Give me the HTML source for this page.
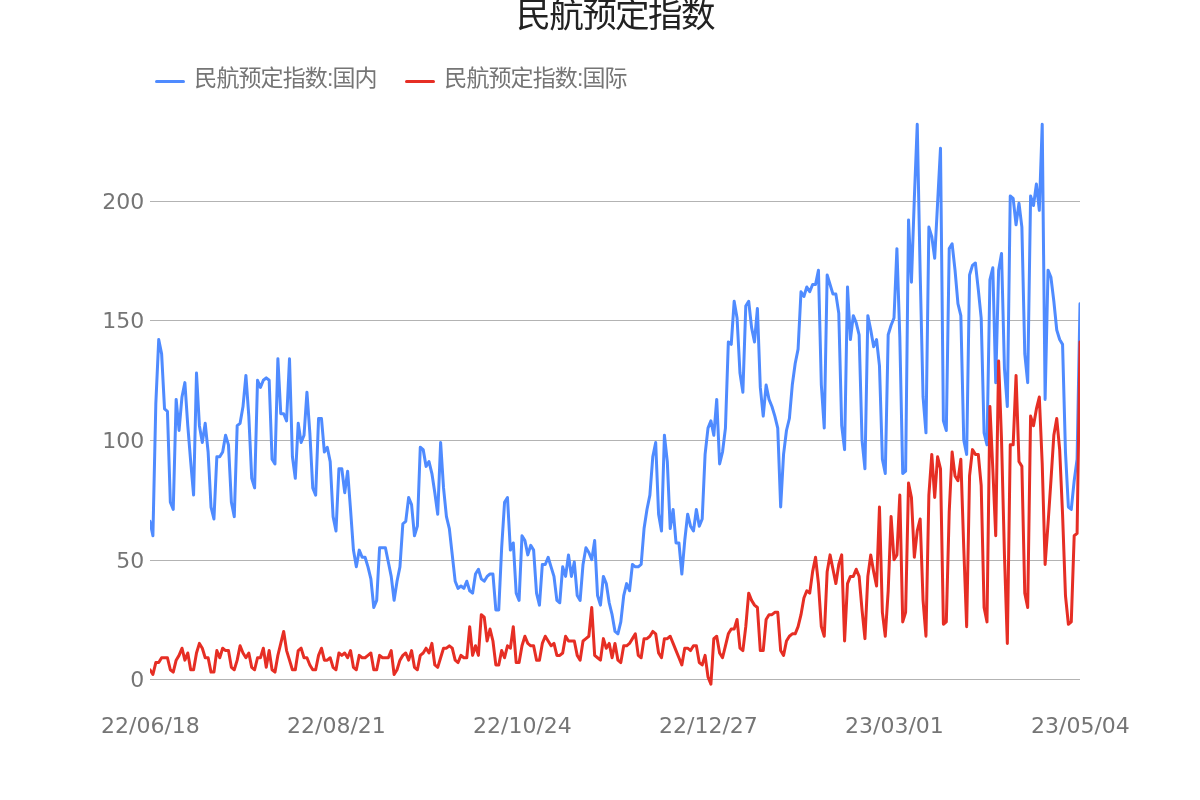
<!DOCTYPE html>
<html lang="zh-CN">
<head>
<meta charset="utf-8">
<title>民航预定指数</title>
<style>
html,body{margin:0;padding:0;background:#fff;}
body{width:1200px;height:800px;overflow:hidden;position:relative;font-family:"Liberation Sans","Noto Sans CJK SC",sans-serif;}
svg{position:absolute;left:0;top:0;display:block;}
.title{font-family:"Liberation Sans","Noto Sans CJK SC","WenQuanYi Zen Hei",sans-serif;font-size:34.6px;letter-spacing:-1.65px;fill:#222;}
.legend text{font-family:"Liberation Sans","Noto Sans CJK SC","WenQuanYi Zen Hei",sans-serif;font-size:23px;letter-spacing:-0.9px;fill:#757575;}
.axis text{font-family:"DejaVu Sans","Liberation Sans",sans-serif;font-size:22px;fill:#757575;}
.grid line{stroke:#b3b3b3;stroke-width:1;shape-rendering:crispEdges;}
.series{fill:none;stroke-width:3;stroke-linejoin:round;stroke-linecap:round;}
</style>
</head>
<body>
<svg width="1200" height="800" viewBox="0 0 1200 800">
<rect x="0" y="0" width="1200" height="800" fill="#ffffff"/>
<text class="title" x="516.3" y="26.6">民航预定指数</text>
<g class="legend">
<line x1="156.5" x2="183.5" y1="81.5" y2="81.5" stroke="#4F8BFF" stroke-width="3" stroke-linecap="round"/>
<text x="194.3" y="86">民航预定指数:国内</text>
<line x1="406.5" x2="433.5" y1="81.5" y2="81.5" stroke="#E62E24" stroke-width="3" stroke-linecap="round"/>
<text x="444.3" y="86">民航预定指数:国际</text>
</g>
<g class="grid"><line x1="150" x2="1080" y1="679.5" y2="679.5"/><line x1="150" x2="1080" y1="560.5" y2="560.5"/><line x1="150" x2="1080" y1="440.5" y2="440.5"/><line x1="150" x2="1080" y1="320.5" y2="320.5"/><line x1="150" x2="1080" y1="201.5" y2="201.5"/></g>
<g class="axis"><text x="144.3" y="686.5" text-anchor="end">0</text><text x="144.3" y="567.5" text-anchor="end">50</text><text x="144.3" y="447.5" text-anchor="end">100</text><text x="144.3" y="327.5" text-anchor="end">150</text><text x="144.3" y="208.5" text-anchor="end">200</text><text x="150.4" y="733" text-anchor="middle">22/06/18</text><text x="336.4" y="733" text-anchor="middle">22/08/21</text><text x="522.4" y="733" text-anchor="middle">22/10/24</text><text x="708.4" y="733" text-anchor="middle">22/12/27</text><text x="894.4" y="733" text-anchor="middle">23/03/01</text><text x="1080.4" y="733" text-anchor="middle">23/05/04</text></g>
<defs><clipPath id="plot"><rect x="150" y="100" width="930" height="620"/></clipPath></defs>
<g clip-path="url(#plot)">
<polyline class="series" stroke="#4F8BFF" points="150.00,521.39 152.91,535.75 155.81,404.16 158.72,339.56 161.62,353.92 164.53,408.95 167.44,411.34 170.34,502.25 173.25,509.43 176.16,399.38 179.06,430.48 181.97,396.98 184.88,382.63 187.78,425.69 190.69,461.58 193.59,495.08 196.50,373.06 199.41,425.69 202.31,442.44 205.22,423.30 208.12,452.01 211.03,507.04 213.94,519.00 216.84,456.80 219.75,456.80 222.66,452.01 225.56,435.26 228.47,444.83 231.38,502.25 234.28,516.61 237.19,425.69 240.09,423.30 243.00,406.55 245.91,375.45 248.81,416.12 251.72,478.33 254.62,487.90 257.53,380.24 260.44,387.41 263.34,380.24 266.25,377.84 269.16,380.24 272.06,459.19 274.97,463.97 277.88,358.70 280.78,413.73 283.69,413.73 286.59,420.91 289.50,358.70 292.41,456.80 295.31,478.33 298.22,423.30 301.12,442.44 304.03,435.26 306.94,392.20 309.84,432.87 312.75,487.90 315.66,495.08 318.56,418.52 321.47,418.52 324.38,452.01 327.28,447.23 330.19,461.58 333.09,516.61 336.00,530.96 338.91,468.76 341.81,468.76 344.72,492.68 347.62,471.15 350.53,509.43 353.44,550.11 356.34,566.85 359.25,550.11 362.16,557.28 365.06,557.28 367.97,566.85 370.88,578.81 373.78,607.52 376.69,600.35 379.59,547.71 382.50,547.71 385.41,547.71 388.31,562.07 391.22,576.42 394.12,600.35 397.03,581.21 399.94,566.85 402.84,523.79 405.75,521.39 408.66,497.47 411.56,504.65 414.47,535.75 417.38,526.18 420.28,447.23 423.19,449.62 426.09,466.37 429.00,461.58 431.91,473.54 434.81,492.68 437.72,514.22 440.62,442.44 443.53,487.90 446.44,516.61 449.34,528.57 452.25,554.89 455.16,581.21 458.06,588.38 460.97,585.99 463.88,588.38 466.78,581.21 469.69,590.78 472.59,593.17 475.50,574.03 478.41,569.24 481.31,578.81 484.22,581.21 487.12,576.42 490.03,574.03 492.94,574.03 495.84,609.92 498.75,609.92 501.66,547.71 504.56,502.25 507.47,497.47 510.38,550.11 513.28,542.93 516.19,593.17 519.09,600.35 522.00,535.75 524.91,540.53 527.81,554.89 530.72,545.32 533.62,550.11 536.53,593.17 539.44,605.13 542.34,564.46 545.25,564.46 548.16,557.28 551.06,566.85 553.97,576.42 556.88,600.35 559.78,602.74 562.69,566.85 565.59,576.42 568.50,554.89 571.41,576.42 574.31,562.07 577.22,595.56 580.12,600.35 583.03,564.46 585.94,547.71 588.84,552.50 591.75,559.67 594.66,540.53 597.56,595.56 600.47,605.13 603.38,576.42 606.28,583.60 609.19,602.74 612.09,614.70 615.00,631.45 617.91,633.84 620.81,621.88 623.72,595.56 626.62,583.60 629.53,590.78 632.44,564.46 635.34,566.85 638.25,566.85 641.16,564.46 644.06,528.57 646.97,509.43 649.88,495.08 652.78,456.80 655.69,442.44 658.59,514.22 661.50,530.96 664.41,435.26 667.31,461.58 670.22,528.57 673.12,509.43 676.03,542.93 678.94,542.93 681.84,574.03 684.75,540.53 687.66,514.22 690.56,526.18 693.47,530.96 696.38,509.43 699.28,526.18 702.19,519.00 705.09,454.40 708.00,428.09 710.91,420.91 713.81,435.26 716.72,399.38 719.62,463.97 722.53,452.01 725.44,428.09 728.34,341.96 731.25,344.35 734.16,301.28 737.06,318.03 739.97,373.06 742.88,392.20 745.78,306.07 748.69,301.28 751.59,327.60 754.50,341.96 757.41,308.46 760.31,387.41 763.22,416.12 766.12,385.02 769.03,399.38 771.94,406.55 774.84,416.12 777.75,428.09 780.66,507.04 783.56,454.40 786.47,430.48 789.38,418.52 792.28,385.02 795.19,363.49 798.09,349.13 801.00,291.71 803.91,296.50 806.81,286.93 809.72,291.71 812.62,284.54 815.53,284.54 818.44,270.18 821.34,385.02 824.25,428.09 827.16,274.97 830.06,284.54 832.97,294.11 835.88,294.11 838.78,313.25 841.69,425.69 844.59,449.62 847.50,286.93 850.41,339.56 853.31,315.64 856.22,322.82 859.12,334.78 862.03,440.05 864.94,468.76 867.84,315.64 870.75,329.99 873.66,346.74 876.56,339.56 879.47,365.88 882.38,459.19 885.28,473.54 888.19,334.78 891.09,325.21 894.00,318.03 896.91,248.65 899.81,337.17 902.72,473.54 905.62,471.15 908.53,219.94 911.44,282.14 914.34,198.41 917.25,124.24 920.16,272.57 923.06,396.98 925.97,432.87 928.88,227.12 931.78,236.69 934.69,258.22 937.59,203.19 940.50,148.16 943.41,420.91 946.31,430.48 949.22,248.65 952.12,243.86 955.03,270.18 957.94,303.68 960.84,315.64 963.75,440.05 966.66,454.40 969.56,274.97 972.47,265.40 975.38,263.00 978.28,289.32 981.19,318.03 984.09,432.87 987.00,444.83 989.91,279.75 992.81,267.79 995.72,382.63 998.62,270.18 1001.53,253.43 1004.44,368.27 1007.34,406.55 1010.25,196.01 1013.16,198.41 1016.06,224.72 1018.97,203.19 1021.88,227.12 1024.78,353.92 1027.69,382.63 1030.59,196.01 1033.50,205.58 1036.41,184.05 1039.31,210.37 1042.22,124.24 1045.12,399.38 1048.03,270.18 1050.94,277.36 1053.84,301.28 1056.75,329.99 1059.66,339.56 1062.56,344.35 1065.47,452.01 1068.38,507.04 1071.28,509.43 1074.19,480.72 1077.09,459.19 1080.00,303.68"/>
<polyline class="series" stroke="#E62E24" points="150.00,669.73 152.91,674.51 155.81,662.55 158.72,662.55 161.62,657.77 164.53,657.77 167.44,657.77 170.34,669.73 173.25,672.12 176.16,660.16 179.06,655.38 181.97,648.20 184.88,660.16 187.78,652.98 190.69,669.73 193.59,669.73 196.50,652.98 199.41,643.41 202.31,648.20 205.22,657.77 208.12,657.77 211.03,672.12 213.94,672.12 216.84,650.59 219.75,657.77 222.66,648.20 225.56,650.59 228.47,650.59 231.38,667.34 234.28,669.73 237.19,660.16 240.09,645.80 243.00,652.98 245.91,657.77 248.81,652.98 251.72,667.34 254.62,669.73 257.53,657.77 260.44,657.77 263.34,648.20 266.25,667.34 269.16,650.59 272.06,669.73 274.97,672.12 277.88,655.38 280.78,643.41 283.69,631.45 286.59,650.59 289.50,660.16 292.41,669.73 295.31,669.73 298.22,650.59 301.12,648.20 304.03,657.77 306.94,657.77 309.84,664.94 312.75,669.73 315.66,669.73 318.56,655.38 321.47,648.20 324.38,660.16 327.28,660.16 330.19,657.77 333.09,667.34 336.00,669.73 338.91,652.98 341.81,655.38 344.72,652.98 347.62,657.77 350.53,650.59 353.44,667.34 356.34,669.73 359.25,655.38 362.16,657.77 365.06,657.77 367.97,655.38 370.88,652.98 373.78,669.73 376.69,669.73 379.59,655.38 382.50,657.77 385.41,657.77 388.31,657.77 391.22,650.59 394.12,674.51 397.03,669.73 399.94,660.16 402.84,655.38 405.75,652.98 408.66,660.16 411.56,650.59 414.47,667.34 417.38,669.73 420.28,655.38 423.19,652.98 426.09,648.20 429.00,652.98 431.91,643.41 434.81,664.94 437.72,667.34 440.62,657.77 443.53,648.20 446.44,648.20 449.34,645.80 452.25,648.20 455.16,660.16 458.06,662.55 460.97,655.38 463.88,657.77 466.78,657.77 469.69,626.66 472.59,655.38 475.50,645.80 478.41,655.38 481.31,614.70 484.22,617.09 487.12,641.02 490.03,629.06 492.94,641.02 495.84,664.94 498.75,664.94 501.66,650.59 504.56,657.77 507.47,645.80 510.38,648.20 513.28,626.66 516.19,662.55 519.09,662.55 522.00,645.80 524.91,636.23 527.81,643.41 530.72,645.80 533.62,645.80 536.53,660.16 539.44,660.16 542.34,643.41 545.25,636.23 548.16,641.02 551.06,645.80 553.97,643.41 556.88,655.38 559.78,655.38 562.69,652.98 565.59,636.23 568.50,641.02 571.41,641.02 574.31,641.02 577.22,655.38 580.12,660.16 583.03,641.02 585.94,638.63 588.84,636.23 591.75,607.52 594.66,655.38 597.56,657.77 600.47,660.16 603.38,638.63 606.28,648.20 609.19,643.41 612.09,657.77 615.00,643.41 617.91,660.16 620.81,662.55 623.72,645.80 626.62,645.80 629.53,643.41 632.44,638.63 635.34,633.84 638.25,655.38 641.16,657.77 644.06,638.63 646.97,638.63 649.88,636.23 652.78,631.45 655.69,633.84 658.59,652.98 661.50,657.77 664.41,638.63 667.31,638.63 670.22,636.23 673.12,643.41 676.03,650.59 678.94,657.77 681.84,664.94 684.75,648.20 687.66,648.20 690.56,650.59 693.47,645.80 696.38,645.80 699.28,662.55 702.19,664.94 705.09,655.38 708.00,676.91 710.91,684.08 713.81,638.63 716.72,636.23 719.62,652.98 722.53,657.77 725.44,645.80 728.34,633.84 731.25,629.06 734.16,629.06 737.06,619.49 739.97,648.20 742.88,650.59 745.78,626.66 748.69,593.17 751.59,600.35 754.50,605.13 757.41,607.52 760.31,650.59 763.22,650.59 766.12,619.49 769.03,614.70 771.94,614.70 774.84,612.31 777.75,612.31 780.66,650.59 783.56,655.38 786.47,641.02 789.38,636.23 792.28,633.84 795.19,633.84 798.09,626.66 801.00,614.70 803.91,597.95 806.81,590.78 809.72,593.17 812.62,571.64 815.53,557.28 818.44,583.60 821.34,626.66 824.25,636.23 827.16,571.64 830.06,554.89 832.97,569.24 835.88,583.60 838.78,564.46 841.69,554.89 844.59,641.02 847.50,583.60 850.41,576.42 853.31,576.42 856.22,569.24 859.12,576.42 862.03,609.92 864.94,638.63 867.84,576.42 870.75,554.89 873.66,571.64 876.56,585.99 879.47,507.04 882.38,612.31 885.28,636.23 888.19,590.78 891.09,516.61 894.00,559.67 896.91,554.89 899.81,495.08 902.72,621.88 905.62,612.31 908.53,483.11 911.44,497.47 914.34,557.28 917.25,530.96 920.16,519.00 923.06,600.35 925.97,636.23 928.88,495.08 931.78,454.40 934.69,497.47 937.59,456.80 940.50,468.76 943.41,624.27 946.31,621.88 949.22,511.82 952.12,452.01 955.03,475.94 957.94,480.72 960.84,459.19 963.75,547.71 966.66,626.66 969.56,475.94 972.47,449.62 975.38,454.40 978.28,454.40 981.19,485.51 984.09,607.52 987.00,621.88 989.91,406.55 992.81,468.76 995.72,535.75 998.62,361.10 1001.53,440.05 1004.44,554.89 1007.34,643.41 1010.25,444.83 1013.16,444.83 1016.06,375.45 1018.97,461.58 1021.88,466.37 1024.78,593.17 1027.69,607.52 1030.59,416.12 1033.50,425.69 1036.41,408.95 1039.31,396.98 1042.22,463.97 1045.12,564.46 1048.03,523.79 1050.94,480.72 1053.84,435.26 1056.75,418.52 1059.66,449.62 1062.56,514.22 1065.47,595.56 1068.38,624.27 1071.28,621.88 1074.19,535.75 1077.09,533.36 1080.00,341.96"/>
</g>
</svg>
</body>
</html>
